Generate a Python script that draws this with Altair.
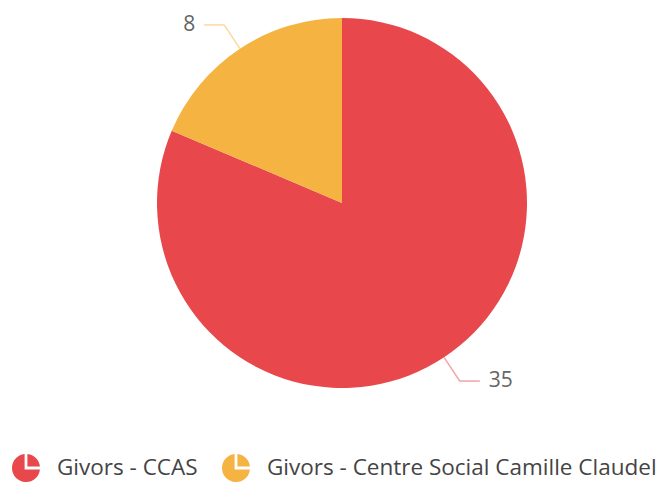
import altair as alt
import pandas as pd

# ---- data ----
categories = ["Givors - CCAS", "Givors - Centre Social Camille Claudel"]
values = [35, 8]
colors = ["#E8474B", "#F5B342"]

df = pd.DataFrame({"cat": categories, "value": values, "idx": list(range(len(values)))})

# ---- layout constants ----
CX, CY, R = 334, 195, 185
ELBOW = 213.5
HSEG = 20
GAP = 9
FONT = "Open Sans"

PIE_ICON = ("M-0.1,-0.995 L-0.1,0.1 L0.995,0.1 A1,1 0 1,1 -0.1,-0.995 Z "
            "M0.1,-0.1 L0.1,-0.995 A1,1 0 0,1 0.995,-0.1 Z")

color_scale = alt.Scale(domain=categories, range=colors)

base = alt.Chart(df)

pie = base.mark_arc(outerRadius=R).encode(
    theta=alt.Theta("value:Q", stack=True),
    order=alt.Order("idx:Q"),
    color=alt.Color(
        "cat:N",
        scale=color_scale,
        legend=alt.Legend(
            title=None,
            orient="none",
            legendX=4,
            legendY=446,
            direction="horizontal",
            symbolType=PIE_ICON,
            symbolSize=784,
            symbolStrokeWidth=0,
            labelFontSize=22.5,
            labelFont=FONT,
            labelColor="#444444",
            labelOffset=17,
            columnPadding=24,
            labelLimit=1000,
        ),
    ),
    x=alt.value(CX),
    y=alt.value(CY),
)

geo = (
    base.transform_joinaggregate(total="sum(value)")
    .transform_window(cum="sum(value)", sort=[alt.SortField("idx")], frame=[None, 0])
    .transform_calculate(mid="2*PI*(datum.cum - datum.value/2)/datum.total")
    .transform_calculate(side="sin(datum.mid) >= 0 ? 1 : -1")
    .transform_calculate(x0=f"{CX} + {R}*sin(datum.mid)")
    .transform_calculate(y0=f"{CY} - {R}*cos(datum.mid)")
    .transform_calculate(x1=f"{CX} + {ELBOW}*sin(datum.mid)")
    .transform_calculate(y1=f"{CY} - {ELBOW}*cos(datum.mid)")
    .transform_calculate(x2=f"datum.x1 + datum.side*{HSEG}")
    .transform_calculate(xt=f"datum.x2 + datum.side*{GAP}")
)

line_color = alt.Color("cat:N", scale=color_scale, legend=None)

seg1 = geo.mark_rule(strokeWidth=1.5, opacity=0.5).encode(
    x=alt.X("x0:Q", scale=None, axis=None),
    y=alt.Y("y0:Q", scale=None, axis=None),
    x2="x1:Q",
    y2="y1:Q",
    color=line_color,
)
seg2 = geo.mark_rule(strokeWidth=1.5, opacity=0.5).encode(
    x=alt.X("x1:Q", scale=None, axis=None),
    y=alt.Y("y1:Q", scale=None, axis=None),
    x2="x2:Q",
    y2="y1:Q",
    color=line_color,
)

txt_left = geo.transform_filter("datum.side < 0").mark_text(
    align="right", baseline="middle", fontSize=21, font=FONT, color="#666666"
).encode(
    x=alt.X("xt:Q", scale=None, axis=None),
    y=alt.Y("y1:Q", scale=None, axis=None),
    text="value:Q",
)
txt_right = geo.transform_filter("datum.side >= 0").mark_text(
    align="left", baseline="middle", fontSize=21, font=FONT, color="#666666"
).encode(
    x=alt.X("xt:Q", scale=None, axis=None),
    y=alt.Y("y1:Q", scale=None, axis=None),
    text="value:Q",
)

chart = (
    alt.layer(pie, seg1, seg2, txt_left, txt_right)
    .properties(width=654, height=475, padding=0, autosize="none")
    .configure_view(stroke=None)
)

chart.save("out.html", embed_options={"renderer": "svg", "actions": False})
